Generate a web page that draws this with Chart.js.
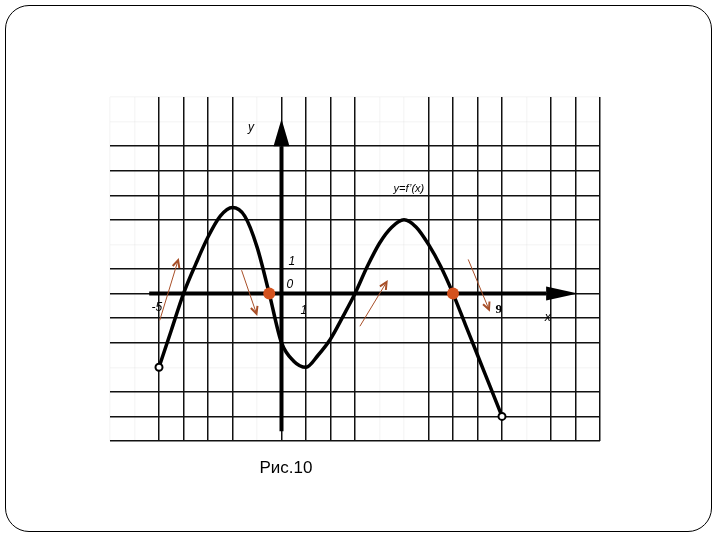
<!DOCTYPE html>
<html>
<head>
<meta charset="utf-8">
<script src="https://cdn.jsdelivr.net/npm/chart.js@4"></script>
<style>
  html, body { margin: 0; padding: 0; background: #fff; }
  #wrap { position: relative; width: 720px; height: 540px; }
  #frame {
    position: absolute; left: 5px; top: 5px; width: 707px; height: 527px;
    border: 1.5px solid #000; border-radius: 24px; box-sizing: border-box;
  }
  #caption {
    position: absolute; left: 0; width: 572px; top: 458px; text-align: center;
    font: 17px "Liberation Sans", Arial, sans-serif; color: #000;
  }
  canvas { position: absolute; left: 0; top: 0; }
</style>
</head>
<body>
<div id="wrap">
  <canvas id="chart" width="720" height="540"></canvas>
  <div id="frame"></div>
  <div id="caption">Рис.10</div>
</div>
<script>
// curve y = f'(x)
const xValues = [-5, -4.5, -4, -3.5, -3, -2.5, -2, -1.5, -1, -0.5, 0, 0.5, 1, 1.5, 2, 2.5, 3, 3.5, 4, 4.5, 5, 5.5, 6, 6.5, 7, 7.5, 8, 8.5, 9];
const yValues = [-3, -1.5, 0, 1.2, 2.3, 3.15, 3.5, 3.15, 1.9, 0, -2, -2.75, -3, -2.5, -1.85, -0.95, 0, 1.1, 2.05, 2.7, 3, 2.7, 2, 1.1, 0, -1.25, -2.5, -3.75, -5];

// zeros marked with orange dots
const rootX = [-0.5, 7];
const rootY = [0, 0];

// axis range
const xMin = -7, xMax = 13;
const yMin = -6, yMax = 8;
const hiddenX = [-7, -6, -1, 4, 5, 10];
const hiddenY = [8, 7, 2, -3];

// annotations (data units)
const labels = [
  { text: "y", x: -1.24, y: 6.75, font: "italic 12px 'Liberation Sans'" },
  { text: "1", x: 0.42, y: 1.28, font: "italic 12px 'Liberation Sans'" },
  { text: "0", x: 0.34, y: 0.36, font: "italic 12px 'Liberation Sans'" },
  { text: "1", x: 0.91, y: -0.68, font: "italic 12px 'Liberation Sans'" },
  { text: "-5", x: -5.09, y: -0.56, font: "italic 12px 'Liberation Sans'" },
  { text: "9", x: 8.87, y: -0.66, font: "bold 13px 'Liberation Serif'" },
  { text: "x", x: 10.87, y: -0.97, font: "italic 12px 'Liberation Sans'" },
  { text: "y=f\u2019(x)", x: 5.2, y: 4.25, font: "italic 11px 'Liberation Sans Narrow', 'Liberation Sans'" },
];
const arrows = [
  { from: [-4.97, -1.09], to: [-4.22, 1.36] },
  { from: [-1.63, 0.95], to: [-1.02, -0.82] },
  { from: [3.2, -1.33], to: [4.29, 0.47] },
  { from: [7.62, 1.39], to: [8.47, -0.65] },
];

const gridColor = (hidden) => (ctx) =>
  hidden.includes(ctx.tick.value) ? "rgba(0,0,0,0.03)" : "#111";

const sketch = {
  id: "sketch",
  beforeDatasetsDraw(chart) {
    const { ctx, scales } = chart;
    const sx = scales.x, sy = scales.y;
    const x0 = sx.getPixelForValue(0), y0 = sy.getPixelForValue(0);
    ctx.save();
    ctx.fillStyle = "#000";
    ctx.strokeStyle = "#000";
    ctx.lineWidth = 4;
    // y axis
    ctx.beginPath();
    ctx.moveTo(x0, sy.getPixelForValue(-5.6));
    ctx.lineTo(x0, sy.getPixelForValue(6));
    ctx.stroke();
    ctx.beginPath();
    ctx.moveTo(x0 - 8, sy.getPixelForValue(6));
    ctx.lineTo(x0 + 8, sy.getPixelForValue(6));
    ctx.lineTo(x0, sy.getPixelForValue(7.1));
    ctx.closePath();
    ctx.fill();
    // x axis
    ctx.beginPath();
    ctx.moveTo(sx.getPixelForValue(-5.4), y0);
    ctx.lineTo(sx.getPixelForValue(10.8), y0);
    ctx.stroke();
    ctx.beginPath();
    ctx.moveTo(sx.getPixelForValue(10.8), y0 - 7);
    ctx.lineTo(sx.getPixelForValue(10.8), y0 + 7);
    ctx.lineTo(sx.getPixelForValue(12.1), y0);
    ctx.closePath();
    ctx.fill();
    ctx.restore();
  },
  afterDatasetsDraw(chart) {
    const { ctx, scales } = chart;
    const sx = scales.x, sy = scales.y;
    ctx.save();
    // brown arrows
    ctx.strokeStyle = "#a84f28";
    arrows.forEach((a) => {
      const x1 = sx.getPixelForValue(a.from[0]), y1 = sy.getPixelForValue(a.from[1]);
      const x2 = sx.getPixelForValue(a.to[0]), y2 = sy.getPixelForValue(a.to[1]);
      ctx.lineWidth = 1;
      ctx.beginPath();
      ctx.moveTo(x1, y1);
      ctx.lineTo(x2, y2);
      ctx.stroke();
      const ang = Math.atan2(y2 - y1, x2 - x1);
      ctx.lineWidth = 2;
      ctx.beginPath();
      ctx.moveTo(x2 - 8 * Math.cos(ang - 0.45), y2 - 8 * Math.sin(ang - 0.45));
      ctx.lineTo(x2, y2);
      ctx.lineTo(x2 - 8 * Math.cos(ang + 0.45), y2 - 8 * Math.sin(ang + 0.45));
      ctx.stroke();
    });
    // text labels
    ctx.fillStyle = "#000";
    ctx.textAlign = "center";
    ctx.textBaseline = "middle";
    labels.forEach((l) => {
      ctx.font = l.font;
      ctx.fillText(l.text, sx.getPixelForValue(l.x), sy.getPixelForValue(l.y));
    });
    ctx.restore();
  },
};

new Chart(document.getElementById("chart"), {
  type: "line",
  data: {
    datasets: [
      {
        data: rootX.map((x, i) => ({ x: x, y: rootY[i] })),
        showLine: false,
        pointRadius: 6,
        pointBackgroundColor: "#d4521e",
        pointBorderColor: "#d4521e",
        pointBorderWidth: 0,
        order: 0,
      },
      {
        data: xValues.map((x, i) => ({ x: x, y: yValues[i] })),
        borderColor: "#000",
        borderWidth: 3.5,
        cubicInterpolationMode: "monotone",
        pointRadius: (c) => (c.dataIndex === 0 || c.dataIndex === xValues.length - 1 ? 3.5 : 0),
        pointBackgroundColor: "#fff",
        pointBorderColor: "#000",
        pointBorderWidth: 2,
        order: 1,
      },
    ],
  },
  options: {
    responsive: false,
    animation: false,
    layout: { padding: { left: 110, right: 120, top: 97, bottom: 99 } },
    plugins: { legend: { display: false }, tooltip: { enabled: false } },
    scales: {
      x: {
        type: "linear",
        min: xMin,
        max: xMax,
        ticks: { stepSize: 1, display: false },
        grid: { drawTicks: false, color: gridColor(hiddenX), lineWidth: 1.5 },
        border: { display: false },
      },
      y: {
        type: "linear",
        min: yMin,
        max: yMax,
        ticks: { stepSize: 1, display: false },
        grid: { drawTicks: false, color: gridColor(hiddenY), lineWidth: 1.5 },
        border: { display: false },
      },
    },
  },
  plugins: [sketch],
});
</script>
</body>
</html>
